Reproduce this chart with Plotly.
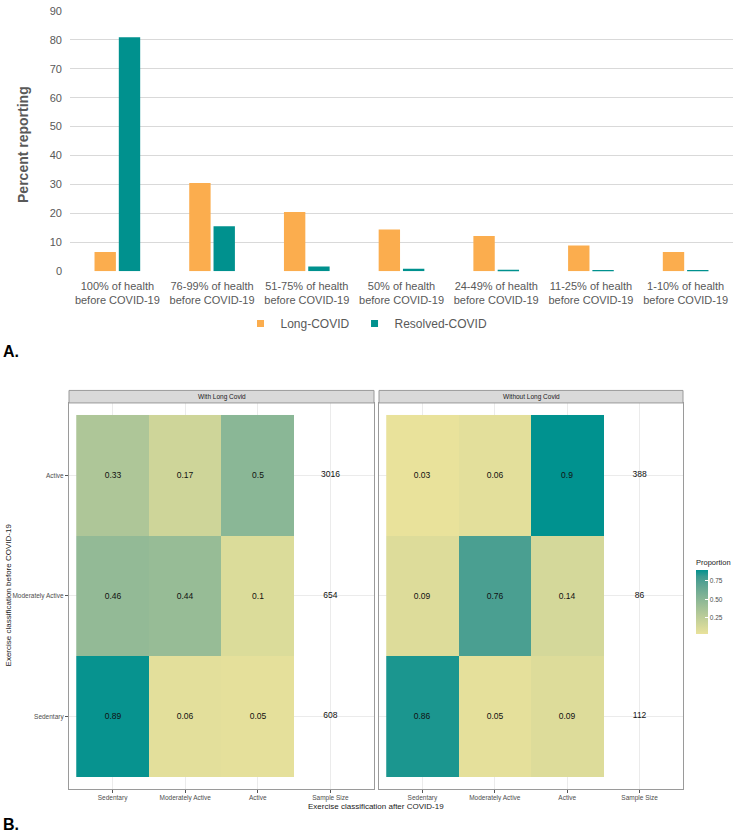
import plotly.graph_objects as go

# ---------------- Data ----------------
health_categories = [
    "100% of health<br>before COVID-19",
    "76-99% of health<br>before COVID-19",
    "51-75% of health<br>before COVID-19",
    "50% of health<br>before COVID-19",
    "24-49% of health<br>before COVID-19",
    "11-25% of health<br>before COVID-19",
    "1-10% of health<br>before COVID-19",
]
long_covid = [6.6, 30.5, 20.5, 14.4, 12.2, 8.9, 6.6]
resolved_covid = [80.9, 15.5, 1.6, 0.8, 0.45, 0.2, 0.1]

after_cats = ["Sedentary", "Moderately Active", "Active"]
before_cats = ["Sedentary", "Moderately Active", "Active"]  # bottom -> top
sample_col = "Sample Size"

# rows = before (Sedentary, Moderately Active, Active); cols = after
with_long = [
    [0.89, 0.06, 0.05],
    [0.46, 0.44, 0.1],
    [0.33, 0.17, 0.5],
]
with_long_n = [608, 654, 3016]
without_long = [
    [0.86, 0.05, 0.09],
    [0.09, 0.76, 0.14],
    [0.03, 0.06, 0.9],
]
without_long_n = [112, 86, 388]

panel_titles = ["With Long Covid", "Without Long Covid"]
bar_ticks = [0, 10, 20, 30, 40, 50, 60, 70, 80, 90]
cbar_ticks = [0.25, 0.5, 0.75]
cbar_ticktext = ["0.25", "0.50", "0.75"]

# ---------------- Styling helpers ----------------
W, H = 733, 839
FONT = "Liberation Sans, Arial, Helvetica, sans-serif"
ORANGE = "#FBAD4E"
TEAL = "#00918E"


def px_x(p):
    return p / W


def px_y(p):
    return 1 - p / H


def _lin(c):
    c = c / 255.0
    return c / 12.92 if c <= 0.04045 else ((c + 0.055) / 1.055) ** 2.4


def _unlin(c):
    v = 12.92 * c if c <= 0.0031308 else 1.055 * c ** (1 / 2.4) - 0.055
    return max(0, min(255, round(v * 255)))


def hex_to_lab(h):
    r, g, b = (int(h[i:i + 2], 16) for i in (1, 3, 5))
    r, g, b = _lin(r), _lin(g), _lin(b)
    x = (0.4124 * r + 0.3576 * g + 0.1805 * b) / 0.95047
    y = (0.2126 * r + 0.7152 * g + 0.0722 * b)
    z = (0.0193 * r + 0.1192 * g + 0.9505 * b) / 1.08883
    f = lambda t: t ** (1 / 3) if t > 0.008856 else 7.787 * t + 16 / 116
    fx, fy, fz = f(x), f(y), f(z)
    return (116 * fy - 16, 500 * (fx - fy), 200 * (fy - fz))


def lab_to_hex(L, a, b):
    fy = (L + 16) / 116
    fx = fy + a / 500
    fz = fy - b / 200
    finv = lambda t: t ** 3 if t ** 3 > 0.008856 else (t - 16 / 116) / 7.787
    x, y, z = finv(fx) * 0.95047, finv(fy), finv(fz) * 1.08883
    r = 3.2406 * x - 1.5372 * y - 0.4986 * z
    g = -0.9689 * x + 1.8758 * y + 0.0415 * z
    bb = 0.0557 * x - 0.2040 * y + 1.0570 * z
    return "#%02X%02X%02X" % (_unlin(r), _unlin(g), _unlin(bb))


LOW, HIGH = "#E9E29B", "#00928F"
l1, l2 = hex_to_lab(LOW), hex_to_lab(HIGH)
colorscale = []
for i in range(11):
    t = i / 10
    colorscale.append([t, lab_to_hex(*[a + (b - a) * t for a, b in zip(l1, l2)])])

fig = go.Figure()

# ---------------- Panel A: bar chart ----------------
fig.add_trace(go.Bar(x=health_categories, y=long_covid, name="Long-COVID",
                     marker=dict(color=ORANGE, line=dict(width=0)),
                     showlegend=False, xaxis="x", yaxis="y"))
fig.add_trace(go.Bar(x=health_categories, y=resolved_covid, name="Resolved-COVID",
                     marker=dict(color=TEAL, line=dict(width=0)),
                     showlegend=False, xaxis="x", yaxis="y"))
for nm, col in (("Long-COVID", ORANGE), ("Resolved-COVID", TEAL)):
    fig.add_trace(go.Scatter(x=[None], y=[None], mode="markers", name=nm,
                             marker=dict(symbol="square", size=7, color=col),
                             xaxis="x", yaxis="y", showlegend=True))

# ---------------- Panel B: heatmaps ----------------
panels = [
    (with_long, with_long_n, "x2", "y2"),
    (without_long, without_long_n, "x3", "y3"),
]
for z, n, xa, ya in panels:
    fig.add_trace(go.Heatmap(
        x=after_cats, y=before_cats, z=z,
        text=[[str(v) for v in row] for row in z],
        texttemplate="%{text}",
        textfont=dict(family=FONT, size=8.5, color="#111111"),
        coloraxis="coloraxis", xaxis=xa, yaxis=ya, showlegend=False,
    ))
    fig.add_trace(go.Scatter(
        x=[sample_col] * len(before_cats), y=before_cats, text=[str(v) for v in n],
        mode="text", textfont=dict(family=FONT, size=8.5, color="#111111"),
        xaxis=xa, yaxis=ya, showlegend=False, hoverinfo="skip",
    ))

# ---------------- Layout ----------------
axis_heat_x = dict(
    type="category", categoryorder="array", categoryarray=after_cats + [sample_col],
    range=[-0.6, 3.6], showgrid=True, gridcolor="#EBEBEB", gridwidth=0.6,
    showline=True, linecolor="#9A9A9A", linewidth=1, mirror=True,
    ticks="outside", ticklen=3, tickcolor="#555555", tickwidth=0.6,
    tickfont=dict(family=FONT, size=6.5, color="#4D4D4D"), zeroline=False,
    fixedrange=True,
)
axis_heat_y = dict(
    type="category", categoryorder="array", categoryarray=before_cats,
    range=[-0.6, 2.6], showgrid=True, gridcolor="#EBEBEB", gridwidth=0.6,
    showline=True, linecolor="#9A9A9A", linewidth=1, mirror=True,
    tickfont=dict(family=FONT, size=6.5, color="#4D4D4D"), zeroline=False,
)

left_x = [px_x(69), px_x(374)]
right_x = [px_x(379), px_x(683)]
heat_y = [px_y(794), px_y(402.7)]

fig.update_layout(
    width=W, height=H,
    margin=dict(l=0, r=0, t=0, b=0),
    paper_bgcolor="white", plot_bgcolor="white",
    font=dict(family=FONT, color="#595959"),
    bargap=0.487, bargroupgap=0.12, barmode="group",
    xaxis=dict(domain=[px_x(70), 1.0], anchor="y", type="category",
               showgrid=False, showline=False, ticks="", zeroline=False,
               tickfont=dict(family=FONT, size=11, color="#595959"),
               ticklabelstandoff=7),
    yaxis=dict(domain=[px_y(269), px_y(5)], anchor="x", range=[0, 90],
               tickvals=bar_ticks, ticklabeloverflow="allow",
               showgrid=True, gridcolor="#D9D9D9", gridwidth=1, zeroline=False,
               showline=False, ticks="",
               tickfont=dict(family=FONT, size=11, color="#595959"),
               ticklabelstandoff=7),
    xaxis2=dict(domain=left_x, anchor="y2", **axis_heat_x),
    yaxis2=dict(domain=heat_y, anchor="x2", ticks="outside", ticklen=3,
                tickcolor="#555555", tickwidth=0.6, **axis_heat_y),
    xaxis3=dict(domain=right_x, anchor="y3", **axis_heat_x),
    yaxis3=dict(domain=heat_y, anchor="x3", showticklabels=False, ticks="",
                **axis_heat_y),
    coloraxis=dict(
        colorscale=colorscale, cmin=0.03, cmax=0.9,
        colorbar=dict(
            title=dict(text="Proportion", side="top",
                       font=dict(family=FONT, size=7.5, color="#1A1A1A")),
            x=px_x(696), xanchor="left", xpad=0,
            y=px_y(637), yanchor="bottom", ypad=0,
            thickness=12, thicknessmode="pixels",
            len=78, lenmode="pixels", outlinewidth=0,
            tickvals=cbar_ticks, ticktext=cbar_ticktext,
            ticks="inside", ticklen=3, tickcolor="white", tickwidth=1,
            tickfont=dict(family=FONT, size=6.5, color="#4D4D4D"),
        ),
    ),
    legend=dict(orientation="h", x=0.5, xanchor="center", y=px_y(322),
                yanchor="middle", font=dict(family=FONT, size=12, color="#595959"),
                itemwidth=30, bgcolor="rgba(0,0,0,0)", tracegroupgap=0),
)

shapes = []
annotations = []
for (x0, x1), title in zip((left_x, right_x), panel_titles):
    shapes.append(dict(type="rect", xref="paper", yref="paper",
                       x0=x0, x1=x1, y0=px_y(402.7), y1=px_y(390),
                       fillcolor="#D9D9D9", line=dict(color="#9A9A9A", width=1)))
    annotations.append(dict(text=title, xref="paper", yref="paper",
                            x=(x0 + x1) / 2, y=px_y(396.4), showarrow=False,
                            xanchor="center", yanchor="middle",
                            font=dict(family=FONT, size=6.5, color="#1A1A1A")))

annotations += [
    dict(text="Percent reporting", xref="paper", yref="paper", x=px_x(23), y=px_y(141),
         textangle=-90, showarrow=False, xanchor="center", yanchor="middle",
         font=dict(family=FONT, size=14, color="#595959", weight="bold")),
    dict(text="<b>A.</b>", xref="paper", yref="paper", x=px_x(1), y=px_y(351),
         showarrow=False, xanchor="left", yanchor="middle",
         font=dict(family=FONT, size=16, color="#000000")),
    dict(text="<b>B.</b>", xref="paper", yref="paper", x=px_x(1), y=px_y(830),
         showarrow=False, xanchor="left", yanchor="middle",
         font=dict(family=FONT, size=16, color="#000000")),
    dict(text="Exercise classification after COVID-19", xref="paper", yref="paper",
         x=px_x(376), y=px_y(812), showarrow=False, xanchor="center", yanchor="middle",
         font=dict(family=FONT, size=8, color="#1A1A1A")),
    dict(text="Exercise classification before COVID-19", xref="paper", yref="paper",
         x=px_x(8), y=px_y(598), textangle=-90, showarrow=False,
         xanchor="center", yanchor="middle",
         font=dict(family=FONT, size=8, color="#1A1A1A")),
]
fig.update_layout(shapes=shapes, annotations=annotations)

fig.write_html(
    "out.html",
    config={"displayModeBar": False},
    post_script="document.body.style.margin='0px';document.body.style.overflow='hidden';",
)
